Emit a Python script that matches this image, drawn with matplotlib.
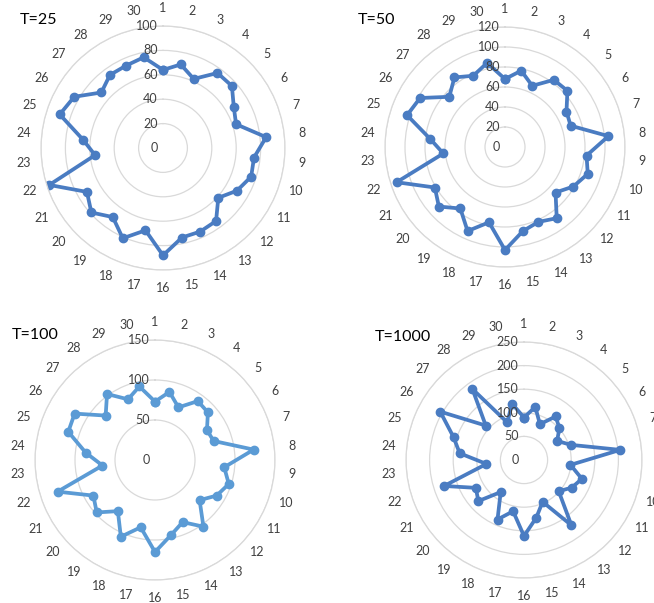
import numpy as np
import matplotlib
matplotlib.use("Agg")
import matplotlib.pyplot as plt

plt.rcParams["font.family"] = ["Lato", "DejaVu Sans"]

categories = [str(i) for i in range(1, 31)]

t25 = [64, 70, 62, 76, 76, 67, 63, 85, 75, 76, 70, 61, 74, 75, 75,
       88, 69, 81, 70, 79, 72, 98, 56, 66, 89, 84, 68, 74, 74, 76]
t50 = [68, 78, 67, 83, 84, 71, 69, 104, 82, 87, 79, 68, 88, 82, 86,
       103, 77, 92, 76, 89, 81, 114, 62, 75, 103, 98, 75, 86, 78, 86]
t100 = [73, 87, 72, 91, 89, 75, 77, 124, 87, 97, 89, 75, 103, 85, 96,
        115, 86, 105, 79, 98, 89, 128, 66, 87, 114, 116, 83, 102, 83, 94]
t1000 = [90, 115, 83, 114, 101, 81, 104, 205, 99, 129, 117, 99, 171, 97, 125,
         161, 111, 138, 84, 130, 118, 178, 80, 137, 157, 205, 109, 186, 87, 122]

titles = ["T=25", "T=50", "T=100", "T=1000"]
series = [t25, t50, t100, t1000]
rmax = [100, 120, 150, 250]
rstep = [20, 20, 50, 50]
colors = ["#4A7CC2", "#4A7CC2", "#5B9BD5", "#4A7CC2"]

W, H = 654, 603
fig = plt.figure(figsize=(W / 100, H / 100), dpi=100)

# (center x px, center y px from top, radius px)
geom = [(163, 148, 122), (505, 147, 120), (155, 460, 120), (524, 460, 118)]
title_pos = [(20, 20), (358, 20), (12, 335), (375, 337)]

n = len(categories)
angles = np.arange(n) * 2 * np.pi / n

for k in range(4):
    cx, cy, r = geom[k]
    ax = fig.add_axes([(cx - r) / W, 1 - (cy + r) / H, 2 * r / W, 2 * r / H], polar=True)
    ax.set_theta_zero_location("N")
    ax.set_theta_direction(-1)
    ax.set_ylim(0, rmax[k])
    ticks = np.arange(0, rmax[k] + 1, rstep[k])
    ax.set_yticks(ticks)
    ax.set_yticklabels([])
    ax.yaxis.grid(True, color="#D9D9D9", linewidth=0.9)
    ax.xaxis.grid(False)
    ax.spines["polar"].set_color("#D9D9D9")
    ax.spines["polar"].set_linewidth(0.9)
    ax.set_xticks(angles)
    ax.set_xticklabels(categories, fontsize=9, color="#404040")
    ax.tick_params(axis="x", pad=6, length=0)
    for t in ticks:
        ax.annotate(str(int(t)), xy=(0, t), xytext=(-4, 0), textcoords="offset points",
                    ha="right", va="center", fontsize=9, color="#404040")
    vals = list(series[k]) + [series[k][0]]
    ang = list(angles) + [angles[0]]
    ax.plot(ang, vals, color=colors[k], linewidth=2.7, marker="o", markersize=6,
            solid_joinstyle="round")
    ax.set_facecolor("none")
    tx, ty = title_pos[k]
    fig.text(tx / W, 1 - ty / H, titles[k], fontsize=11.5, color="#000000",
             ha="left", va="center")

fig.savefig("out.png", dpi=100, facecolor="white")
